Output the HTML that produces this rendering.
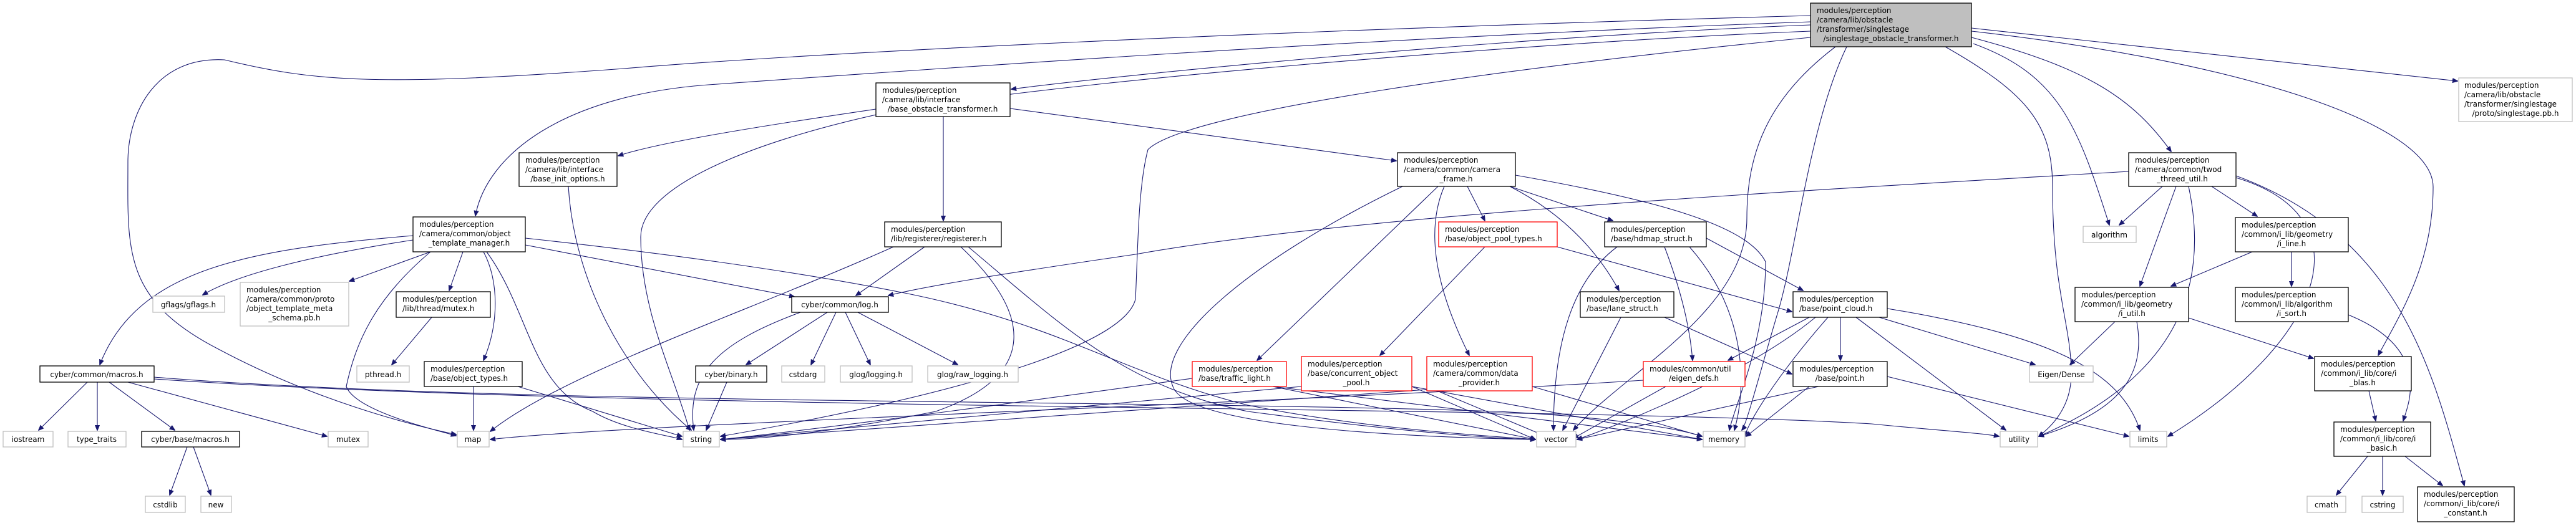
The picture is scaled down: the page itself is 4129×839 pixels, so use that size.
<!DOCTYPE html>
<html><head><meta charset="utf-8"><style>
html,body{margin:0;padding:0;background:#fff;}
svg{display:block;}
text{font-family:"DejaVu Sans","Liberation Sans",sans-serif;font-size:12px;fill:#000;}
.e{fill:none;stroke:#191970;stroke-width:1.1;marker-end:url(#a);}
.b{fill:#fff;stroke:#000;stroke-width:1.3;}
.g{fill:#fff;stroke:#bfbfbf;stroke-width:1.3;}
.r{fill:#fff;stroke:#ff0000;stroke-width:1.3;}
.m{text-anchor:middle;}
</style></head><body>
<svg width="4129" height="839" viewBox="0 0 4129 839" xmlns="http://www.w3.org/2000/svg">
<defs><marker id="a" viewBox="0 0 10 10" refX="9" refY="5" markerWidth="9" markerHeight="9" orient="auto" markerUnits="userSpaceOnUse"><path d="M0,1 L10,5 L0,9 z" fill="#191970" stroke="#191970"/></marker></defs>

<!-- edges -->
<path class="e" d="M2902,35 C2200,60 1500,110 1150,135 C900,150 780,250 762,346"/>
<path class="e" d="M2902,25 C2000,50 1300,85 1000,110 C600,140 500,130 360,96 C250,90 205,180 205,260 C205,400 195,480 350,560 C500,640 650,680 731,697"/>
<path class="e" d="M2902,40 C2400,60 1800,120 1621,143"/>
<path class="e" d="M2902,50 C2400,70 1600,140 1400,185 C1200,230 1027,300 1027,380 C1027,500 1080,600 1105,690"/>
<path class="e" d="M2902,60 C2400,110 1900,180 1840,240 C1824,300 1824,400 1820,480 C1800,560 1500,640 1155,700"/>
<path class="e" d="M1404,175 C1200,205 1050,230 991,250"/>
<path class="e" d="M1512,187 L1512,354"/>
<path class="e" d="M1619,174 L2238,258"/>
<path class="e" d="M911,299 C920,450 1000,600 1108,690"/>
<path class="e" d="M662,378 C400,400 220,430 160,585"/>
<path class="e" d="M662,385 C500,410 380,440 325,473"/>
<path class="e" d="M690,404 L560,451"/>
<path class="e" d="M742,404 L720,466"/>
<path class="e" d="M775,404 C800,450 800,520 775,578"/>
<path class="e" d="M690,404 C600,480 570,550 555,620 C570,660 700,690 731,699"/>
<path class="e" d="M780,404 C850,500 850,620 950,660 C1000,690 1080,700 1093,705"/>
<path class="e" d="M842,393 L1273,476"/>
<path class="e" d="M842,382 C1100,410 1300,440 1450,470 C1700,520 1800,600 2000,650 C2200,690 2400,700 2461,705"/>
<path class="e" d="M692,509 L628,585"/>
<path class="e" d="M759,620 L759,690"/>
<path class="e" d="M830,620 L1093,700"/>
<path class="e" d="M140,613 L62,690"/>
<path class="e" d="M156,613 L156,690"/>
<path class="e" d="M175,613 L280,690"/>
<path class="e" d="M205,613 L524,700"/>
<path class="e" d="M247,605 C800,650 1800,640 2400,660 C2600,670 2700,690 2728,700"/>
<path class="e" d="M247,608 C1000,660 2500,650 3000,680 C3100,690 3180,695 3204,700"/>
<path class="e" d="M300,717 L272,794"/>
<path class="e" d="M310,717 L338,794"/>
<path class="e" d="M1283,501 C1150,550 1100,600 1112,690"/>
<path class="e" d="M1326,501 L1196,585"/>
<path class="e" d="M1340,501 L1300,585"/>
<path class="e" d="M1355,501 L1395,585"/>
<path class="e" d="M1375,501 L1535,585"/>
<path class="e" d="M1165,613 L1132,690"/>
<path class="e" d="M3412,275 C3000,300 2200,340 1820,408 C1600,440 1480,460 1424,474"/>
<path class="e" d="M1432,396 C1200,500 900,600 786,692"/>
<path class="e" d="M1482,396 L1372,474"/>
<path class="e" d="M1540,396 C1650,500 1670,600 1500,660 C1300,700 1200,705 1155,705"/>
<path class="e" d="M1552,396 C1700,520 1800,620 2000,660 C2300,700 2440,705 2461,705"/>
<path class="e" d="M2305,299 L2015,578"/>
<path class="e" d="M2352,299 L2380,354"/>
<path class="e" d="M2420,299 L2585,354"/>
<path class="e" d="M2420,299 C2520,350 2570,420 2595,466"/>
<path class="e" d="M2315,299 C2280,380 2310,480 2355,570"/>
<path class="e" d="M2248,299 C2000,420 1850,550 1880,620 C1900,680 2200,700 2461,705"/>
<path class="e" d="M2429,281 C2650,320 2800,360 2830,420 C2830,550 2780,650 2772,690"/>
<path class="e" d="M2380,396 L2212,570"/>
<path class="e" d="M2496,396 L2872,500"/>
<path class="e" d="M2735,382 L2890,466"/>
<path class="e" d="M2668,396 C2700,480 2710,540 2713,578"/>
<path class="e" d="M2592,396 C2520,450 2490,550 2490,690"/>
<path class="e" d="M2708,396 C2800,500 2800,620 2780,690"/>
<path class="e" d="M2598,509 L2505,690"/>
<path class="e" d="M2668,509 L2872,600"/>
<path class="e" d="M1911,607 C1600,650 1300,690 1155,705"/>
<path class="e" d="M2040,620 L2461,705"/>
<path class="e" d="M2040,620 L2728,705"/>
<path class="e" d="M2263,620 L2461,705"/>
<path class="e" d="M2263,620 L2728,705"/>
<path class="e" d="M2086,620 L1155,705"/>
<path class="e" d="M2287,620 L2478,700"/>
<path class="e" d="M2456,620 L2728,700"/>
<path class="e" d="M2287,625 L1155,705"/>
<path class="e" d="M2670,620 L2522,703"/>
<path class="e" d="M2634,610 C2000,650 1000,680 786,705"/>
<path class="e" d="M2900,509 L2770,578"/>
<path class="e" d="M2950,509 L2950,578"/>
<path class="e" d="M2910,509 C2800,600 2600,680 2528,705"/>
<path class="e" d="M2930,509 C2850,600 2800,680 2797,700"/>
<path class="e" d="M2975,509 L3215,690"/>
<path class="e" d="M3012,509 L3262,585"/>
<path class="e" d="M3025,495 C3300,540 3400,600 3430,690"/>
<path class="e" d="M2915,620 L2528,705"/>
<path class="e" d="M2900,620 L2799,700"/>
<path class="e" d="M3025,604 L3412,700"/>
<path class="e" d="M3466,299 L3397,361"/>
<path class="e" d="M3545,299 L3618,347"/>
<path class="e" d="M3488,299 L3430,459"/>
<path class="e" d="M3508,299 C3540,450 3500,600 3268,700"/>
<path class="e" d="M3584,285 C3800,350 3720,550 3475,700"/>
<path class="e" d="M3584,282 C3850,380 3900,600 3950,779"/>
<path class="e" d="M3610,404 L3480,459"/>
<path class="e" d="M3673,404 L3673,459"/>
<path class="e" d="M3390,516 L3318,585"/>
<path class="e" d="M3425,516 C3440,600 3400,660 3268,700"/>
<path class="e" d="M3508,510 L3708,575"/>
<path class="e" d="M3764,505 C3900,560 3860,650 3852,675"/>
<path class="e" d="M3797,627 L3808,675"/>
<path class="e" d="M3795,732 L3745,794"/>
<path class="e" d="M3819,732 L3819,794"/>
<path class="e" d="M3855,732 L3915,779"/>
<path class="e" d="M3163,70 C3300,120 3330,200 3381,361"/>
<path class="e" d="M3160,60 C3350,110 3420,160 3480,243"/>
<path class="e" d="M3160,50 C3600,100 3900,200 3900,300 C3900,420 3850,500 3812,570"/>
<path class="e" d="M3160,45 L3939,130"/>
<path class="e" d="M3118,75 C3250,150 3290,200 3290,300 C3290,470 3320,520 3320,600 C3320,660 3280,690 3268,700"/>
<path class="e" d="M2942,75 C2830,160 2800,250 2800,350 C2800,500 2600,600 2522,690"/>
<path class="e" d="M2960,75 C2900,200 2880,400 2850,500 C2820,600 2800,680 2792,690"/>

<!-- nodes -->
<rect x="2902" y="5" width="258" height="70" fill="#bfbfbf" stroke="#000" stroke-width="1.3"/>
<text x="2912" y="21">modules/perception</text><text x="2912" y="36">/camera/lib/obstacle</text><text x="2912" y="51">/transformer/singlestage</text><text x="3031" y="66" class="m">/singlestage_obstacle_transformer.h</text>

<rect class="g" x="3941" y="125" width="182" height="70"/>
<text x="3950" y="141">modules/perception</text><text x="3950" y="156">/camera/lib/obstacle</text><text x="3950" y="171">/transformer/singlestage</text><text x="4032" y="186" class="m">/proto/singlestage.pb.h</text>

<rect class="b" x="1404" y="133" width="215" height="54"/>
<text x="1414" y="149">modules/perception</text><text x="1414" y="164">/camera/lib/interface</text><text x="1511" y="179" class="m">/base_obstacle_transformer.h</text>

<rect class="b" x="832" y="245" width="157" height="54"/>
<text x="842" y="261">modules/perception</text><text x="842" y="276">/camera/lib/interface</text><text x="910" y="291" class="m">/base_init_options.h</text>

<rect class="b" x="2240" y="245" width="189" height="54"/>
<text x="2250" y="261">modules/perception</text><text x="2250" y="276">/camera/common/camera</text><text x="2334" y="291" class="m">_frame.h</text>

<rect class="b" x="3412" y="245" width="172" height="54"/>
<text x="3422" y="261">modules/perception</text><text x="3422" y="276">/camera/common/twod</text><text x="3498" y="291" class="m">_threed_util.h</text>

<rect class="b" x="662" y="348" width="180" height="56"/>
<text x="672" y="364">modules/perception</text><text x="672" y="379">/camera/common/object</text><text x="752" y="394" class="m">_template_manager.h</text>

<rect class="b" x="1418" y="356" width="187" height="40"/>
<text x="1428" y="372">modules/perception</text><text x="1428" y="387">/lib/registerer/registerer.h</text>

<rect class="r" x="2306" y="356" width="190" height="40"/>
<text x="2316" y="372">modules/perception</text><text x="2316" y="387">/base/object_pool_types.h</text>

<rect class="b" x="2572" y="356" width="163" height="40"/>
<text x="2582" y="372">modules/perception</text><text x="2582" y="387">/base/hdmap_struct.h</text>

<rect class="g" x="3339" y="363" width="85" height="26"/>
<text x="3381" y="381" class="m">algorithm</text>

<rect class="b" x="3583" y="349" width="181" height="55"/>
<text x="3593" y="365">modules/perception</text><text x="3593" y="380">/common/i_lib/geometry</text><text x="3673" y="395" class="m">/i_line.h</text>

<rect class="g" x="245" y="475" width="115" height="26"/>
<text x="302" y="493" class="m">gflags/gflags.h</text>

<rect class="g" x="385" y="453" width="174" height="70"/>
<text x="395" y="469">modules/perception</text><text x="395" y="484">/camera/common/proto</text><text x="395" y="499">/object_template_meta</text><text x="472" y="514" class="m">_schema.pb.h</text>

<rect class="b" x="635" y="468" width="151" height="41"/>
<text x="645" y="484">modules/perception</text><text x="645" y="499">/lib/thread/mutex.h</text>

<rect class="b" x="1269" y="476" width="155" height="25"/>
<text x="1346" y="493" class="m">cyber/common/log.h</text>

<rect class="b" x="2533" y="468" width="150" height="41"/>
<text x="2543" y="484">modules/perception</text><text x="2543" y="499">/base/lane_struct.h</text>

<rect class="b" x="2874" y="468" width="151" height="41"/>
<text x="2884" y="484">modules/perception</text><text x="2884" y="499">/base/point_cloud.h</text>

<rect class="b" x="3326" y="461" width="182" height="55"/>
<text x="3336" y="477">modules/perception</text><text x="3336" y="492">/common/i_lib/geometry</text><text x="3417" y="507" class="m">/i_util.h</text>

<rect class="b" x="3583" y="461" width="181" height="55"/>
<text x="3593" y="477">modules/perception</text><text x="3593" y="492">/common/i_lib/algorithm</text><text x="3673" y="507" class="m">/i_sort.h</text>

<rect class="b" x="64" y="587" width="183" height="26"/>
<text x="155" y="605" class="m">cyber/common/macros.h</text>

<rect class="g" x="572" y="587" width="84" height="26"/>
<text x="614" y="605" class="m">pthread.h</text>

<rect class="b" x="680" y="580" width="157" height="40"/>
<text x="690" y="596">modules/perception</text><text x="690" y="611">/base/object_types.h</text>

<rect class="b" x="1115" y="587" width="114" height="26"/>
<text x="1172" y="605" class="m">cyber/binary.h</text>

<rect class="g" x="1253" y="587" width="69" height="26"/>
<text x="1287" y="605" class="m">cstdarg</text>

<rect class="g" x="1347" y="587" width="115" height="26"/>
<text x="1404" y="605" class="m">glog/logging.h</text>

<rect class="g" x="1487" y="587" width="145" height="26"/>
<text x="1559" y="605" class="m">glog/raw_logging.h</text>

<rect class="r" x="1911" y="580" width="151" height="40"/>
<text x="1921" y="596">modules/perception</text><text x="1921" y="611">/base/traffic_light.h</text>

<rect class="r" x="2086" y="572" width="177" height="55"/>
<text x="2096" y="588">modules/perception</text><text x="2096" y="603">/base/concurrent_object</text><text x="2174" y="618" class="m">_pool.h</text>

<rect class="r" x="2287" y="572" width="169" height="55"/>
<text x="2297" y="588">modules/perception</text><text x="2297" y="603">/camera/common/data</text><text x="2371" y="618" class="m">_provider.h</text>

<rect class="r" x="2634" y="580" width="163" height="40"/>
<text x="2644" y="596">modules/common/util</text><text x="2715" y="611" class="m">/eigen_defs.h</text>

<rect class="b" x="2874" y="580" width="151" height="40"/>
<text x="2884" y="596">modules/perception</text><text x="2949" y="611" class="m">/base/point.h</text>

<rect class="g" x="3253" y="587" width="102" height="26"/>
<text x="3304" y="605" class="m">Eigen/Dense</text>

<rect class="b" x="3710" y="572" width="155" height="55"/>
<text x="3720" y="588">modules/perception</text><text x="3720" y="603">/common/i_lib/core/i</text><text x="3787" y="618" class="m">_blas.h</text>

<rect class="g" x="5" y="692" width="80" height="25"/><text x="45" y="709" class="m">iostream</text>
<rect class="g" x="109" y="692" width="93" height="25"/><text x="155" y="709" class="m">type_traits</text>
<rect class="b" x="227" y="692" width="157" height="25"/><text x="305" y="709" class="m">cyber/base/macros.h</text>
<rect class="g" x="526" y="692" width="64" height="25"/><text x="558" y="709" class="m">mutex</text>
<rect class="g" x="733" y="692" width="51" height="25"/><text x="758" y="709" class="m">map</text>
<rect class="g" x="1095" y="692" width="58" height="25"/><text x="1124" y="709" class="m">string</text>
<rect class="g" x="2463" y="692" width="63" height="25"/><text x="2494" y="709" class="m">vector</text>
<rect class="g" x="2730" y="692" width="67" height="25"/><text x="2763" y="709" class="m">memory</text>
<rect class="g" x="3206" y="692" width="60" height="25"/><text x="3236" y="709" class="m">utility</text>
<rect class="g" x="3414" y="692" width="59" height="25"/><text x="3443" y="709" class="m">limits</text>

<rect class="b" x="3741" y="677" width="155" height="55"/>
<text x="3751" y="693">modules/perception</text><text x="3751" y="708">/common/i_lib/core/i</text><text x="3818" y="723" class="m">_basic.h</text>

<rect class="g" x="233" y="796" width="64" height="26"/><text x="265" y="814" class="m">cstdlib</text>
<rect class="g" x="322" y="796" width="49" height="26"/><text x="346" y="814" class="m">new</text>
<rect class="g" x="3698" y="796" width="62" height="26"/><text x="3729" y="814" class="m">cmath</text>
<rect class="g" x="3786" y="796" width="66" height="26"/><text x="3819" y="814" class="m">cstring</text>

<rect class="b" x="3875" y="781" width="155" height="56"/>
<text x="3885" y="797">modules/perception</text><text x="3885" y="812">/common/i_lib/core/i</text><text x="3952" y="827" class="m">_constant.h</text>
</svg>
</body></html>
